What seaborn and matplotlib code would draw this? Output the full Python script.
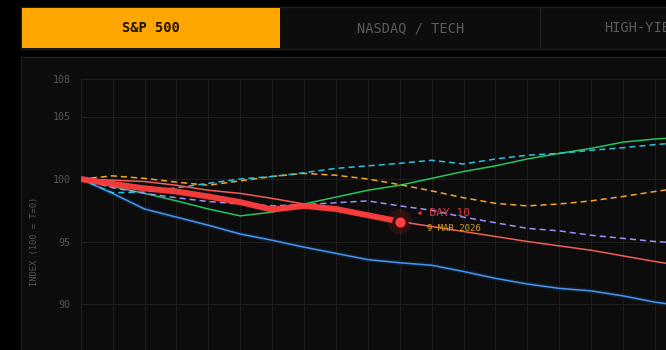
import matplotlib
matplotlib.use("Agg")
import matplotlib.pyplot as plt
import matplotlib.patheffects as pe
from matplotlib.patches import Rectangle
from matplotlib.lines import Line2D
import seaborn as sns

# ---------------- data ----------------
days = list(range(0, 20))
sp500_days = list(range(0, 11))
sp500_actual = [100, 99.6, 99.25, 99.0, 98.6, 98.15, 97.55, 97.85, 97.6, 97.1, 96.6]
sp500_projection = [100, 99.9, 99.8, 99.5, 99.1, 98.85, 98.45, 98.0, 97.6, 97.1, 96.6,
                    96.2, 95.8, 95.4, 95.0, 94.65, 94.3, 93.85, 93.4, 93.0]
analog_blue = [100, 98.85, 97.6, 96.95, 96.3, 95.6, 95.1, 94.55, 94.05, 93.55, 93.3,
               93.1, 92.6, 92.05, 91.6, 91.25, 91.05, 90.65, 90.15, 89.8]
analog_green = [100, 99.4, 98.85, 98.25, 97.6, 97.05, 97.35, 98.0, 98.55, 99.1, 99.5,
                100.05, 100.6, 101.05, 101.6, 102.05, 102.45, 102.95, 103.2, 103.35]
analog_cyan = [100, 98.9, 98.95, 99.3, 99.65, 100.0, 100.2, 100.5, 100.85, 101.05, 101.25,
               101.5, 101.2, 101.6, 101.9, 102.05, 102.3, 102.5, 102.75, 102.95]
analog_orange = [100, 100.25, 100.05, 99.75, 99.5, 99.85, 100.2, 100.45, 100.3, 100.0, 99.55,
                 99.05, 98.5, 98.05, 97.85, 98.0, 98.25, 98.6, 99.0, 99.35]
analog_purple = [100, 99.3, 98.85, 98.5, 98.2, 98.0, 97.85, 97.95, 98.1, 98.25, 97.85,
                 97.5, 96.95, 96.5, 96.05, 95.85, 95.5, 95.25, 95.0, 94.85]
y_ticks = [90, 95, 100, 105, 108]
tabs = ["S&P 500", "NASDAQ / TECH", "HIGH-YIELD"]
marker_day = 10
marker_label = "\u25c2 DAY 10"
marker_date = "9 MAR 2026"

# ---------------- style ----------------
sns.set_style("dark")
plt.rcParams["font.family"] = ["DejaVu Sans Mono", "DejaVu Sans"]

W, H = 666, 350
fig = plt.figure(figsize=(W / 100, H / 100), dpi=100, facecolor="#000000")

def fx(px):
    return px / W

def fy(py):
    return 1 - py / H

# panel background
fig.patches.append(Rectangle((fx(21), -0.2), 1.2, fy(57) + 0.2, transform=fig.transFigure,
                             facecolor="#0c0c0c", edgecolor="#1f1f1f", lw=1, zorder=-10))
# tab bar
fig.patches.append(Rectangle((fx(21), fy(49)), 1.2, (49 - 7) / H, transform=fig.transFigure,
                             facecolor="#0d0d0d", edgecolor="#1f1f1f", lw=1, zorder=-9))
fig.patches.append(Rectangle((fx(22), fy(48)), (280 - 22) / W, (48 - 8) / H, transform=fig.transFigure,
                             facecolor="#ffa600", edgecolor="none", zorder=-8))
fig.lines.append(Line2D([fx(540), fx(540)], [fy(49), fy(7)], transform=fig.transFigure,
                        color="#1f1f1f", lw=1, zorder=-8))
fig.text(fx(151), fy(28), tabs[0], ha="center", va="center", fontsize=9.8,
         fontweight="bold", color="#1a1200")
fig.text(fx(410.5), fy(28), tabs[1], ha="center", va="center", fontsize=9.8, color="#5a5a5a")
fig.text(fx(604), fy(28), tabs[2], ha="left", va="center", fontsize=9.8, color="#5a5a5a")

# main axes
x_left = 80.7
px_per_day = 31.9
xmax = 20
ymin, ymax = 82, 108
px_per_unit = 12.5
top_px = 79
ax_w = xmax * px_per_day
ax_h = (ymax - ymin) * px_per_unit
ax = fig.add_axes([fx(x_left), fy(top_px + ax_h), ax_w / W, ax_h / H])
ax.set_facecolor("#0c0c0c")
ax.set_xlim(0, xmax)
ax.set_ylim(ymin, ymax)
for s in ax.spines.values():
    s.set_visible(False)

ax.set_xticks(list(range(0, xmax + 1)))
ax.set_xticklabels([])
ax.set_yticks(y_ticks)
ax.set_yticklabels([str(t) for t in y_ticks])
ax.grid(True, color="#1e1e1e", lw=0.8)
ax.tick_params(axis="y", colors="#2a2a2a", labelcolor="#555555", labelsize=7.2,
               length=6, width=0.8, pad=1.5)
ax.tick_params(axis="x", length=0)
ax.set_ylabel("INDEX (100 = T=0)", color="#555555", fontsize=6.3)
ax.yaxis.set_label_coords(-(x_left - 39) / ax_w, 0.5)

dash = (0, (4, 2.6))
thin = 1.1

sns.lineplot(x=days, y=analog_blue, ax=ax, color="#4d93e6", lw=thin,
             path_effects=[pe.Stroke(linewidth=3.2, foreground="#0b2540", alpha=0.7), pe.Normal()])
sns.lineplot(x=days, y=analog_green, ax=ax, color="#22c55e", lw=thin)
sns.lineplot(x=days, y=analog_orange, ax=ax, color="#f5a623", lw=thin, linestyle=dash)
sns.lineplot(x=days, y=analog_cyan, ax=ax, color="#2bc4e0", lw=thin, linestyle=dash)
sns.lineplot(x=days, y=analog_purple, ax=ax, color="#a78bfa", lw=thin, linestyle=dash)
sns.lineplot(x=days, y=sp500_projection, ax=ax, color="#ef5f55", lw=thin)
sns.lineplot(x=sp500_days, y=sp500_actual, ax=ax, color="#ff3d3d", lw=4.3,
             solid_capstyle="round", alpha=0.95)

mx = [sp500_days[marker_day]]
my = [sp500_actual[marker_day]]
sns.scatterplot(x=mx, y=my, ax=ax, s=330, color="#ff3d3d", alpha=0.12, edgecolor="none", zorder=5)
sns.scatterplot(x=mx, y=my, ax=ax, s=90, color="#ff4343", edgecolor="#3a0d0d",
                linewidth=2.2, zorder=6)

ax.annotate(marker_label, xy=(mx[0], my[0]), xytext=(12, 5.8), textcoords="offset points",
            ha="left", va="center", fontsize=8, color="#e83a3a")
ax.annotate(marker_date, xy=(mx[0], my[0]), xytext=(19.4, -5), textcoords="offset points",
            ha="left", va="center", fontsize=6.5, color="#d9a025")

fig.savefig("out.png", dpi=100, facecolor=fig.get_facecolor())
